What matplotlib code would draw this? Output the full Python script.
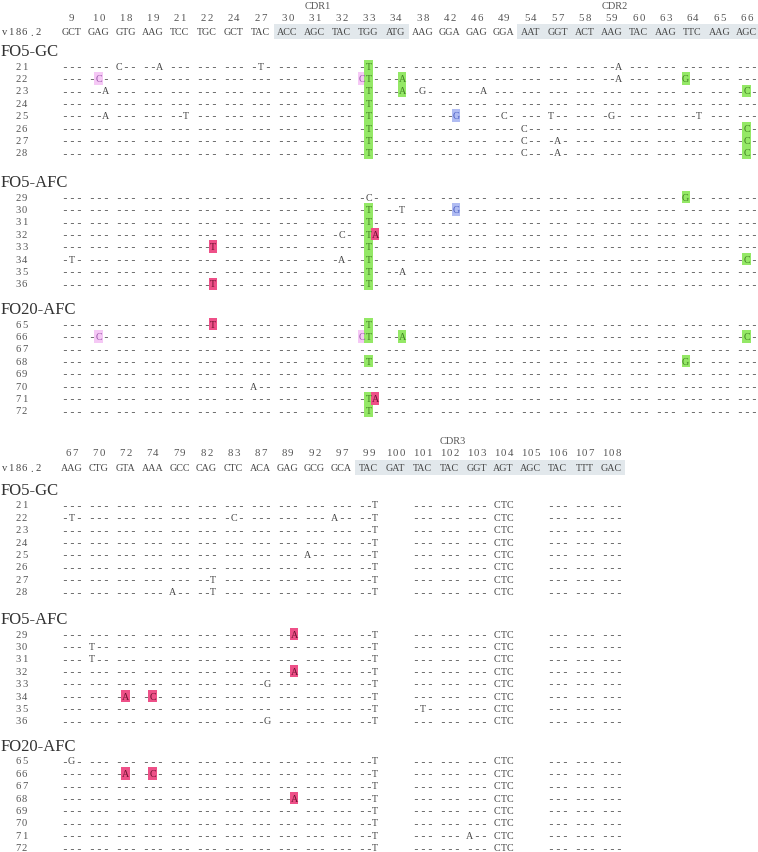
import matplotlib.pyplot as plt
from matplotlib.patches import Rectangle

# ---- data ----
top_codons = [9, 10, 18, 19, 21, 22, 24, 27, 30, 31, 32, 33, 34, 38, 42, 46, 49,
              54, 57, 58, 59, 60, 63, 64, 65, 66]
top_germline = ["GCT", "GAG", "GTG", "AAG", "TCC", "TGC", "GCT", "TAC", "ACC", "AGC",
                "TAC", "TGG", "ATG", "AAG", "GGA", "GAG", "GGA", "AAT", "GGT", "ACT",
                "AAG", "TAC", "AAG", "TTC", "AAG", "AGC"]
# (name, first codon, last codon, codon the label sits over)
top_cdrs = [("CDR1", 30, 34, 31), ("CDR2", 54, 66, 59)]

bottom_codons = [67, 70, 72, 74, 79, 82, 83, 87, 89, 92, 97, 99, 100, 101, 102, 103,
                 104, 105, 106, 107, 108]
bottom_germline = ["AAG", "CTG", "GTA", "AAA", "GCC", "CAG", "CTC", "ACA", "GAG", "GCG",
                   "GCA", "TAC", "GAT", "TAC", "TAC", "GGT", "AGT", "AGC", "TAC", "TTT",
                   "GAC"]
bottom_cdrs = [("CDR3", 99, 108, 102)]
bottom_defaults = {99: "--T", 100: "", 104: "CTC", 105: ""}

groups = [("FO5-GC", [21, 22, 23, 24, 25, 26, 27, 28]),
          ("FO5-AFC", [29, 30, 31, 32, 33, 34, 35, 36]),
          ("FO20-AFC", [65, 66, 67, 68, 69, 70, 71, 72])]

top_muts = {
    21: {18: "C--", 19: "--A", 27: "-T-", 33: "-T-", 59: "--A"},
    22: {10: "-C-", 33: "CT-", 34: "--A", 59: "--A", 64: "G--"},
    23: {10: "--A", 33: "-T-", 34: "--A", 38: "-G-", 46: "--A", 66: "-C-"},
    24: {33: "-T-"},
    25: {10: "--A", 21: "--T", 33: "-T-", 42: "--G", 49: "-C-", 57: "T--", 59: "-G-", 64: "--T"},
    26: {33: "-T-", 54: "C--", 66: "-C-"},
    27: {33: "-T-", 54: "C--", 57: "-A-", 66: "-C-"},
    28: {33: "-T-", 54: "C--", 57: "-A-", 66: "-C-"},
    29: {33: "-C-", 64: "G--"},
    30: {33: "-T-", 34: "--T", 42: "--G"},
    31: {33: "-T-"},
    32: {32: "-C-", 33: "-TA"},
    33: {22: "--T", 33: "-T-"},
    34: {9: "-T-", 32: "-A-", 33: "-T-", 66: "-C-"},
    35: {33: "-T-", 34: "--A"},
    36: {22: "--T", 33: "-T-"},
    65: {22: "--T", 33: "-T-"},
    66: {10: "-C-", 33: "CT-", 34: "--A", 66: "-C-"},
    67: {},
    68: {33: "-T-", 64: "G--"},
    69: {},
    70: {27: "A--"},
    71: {33: "-TA"},
    72: {33: "-T-"},
}

bottom_muts = {
    21: {}, 22: {67: "-T-", 83: "-C-", 97: "A--"}, 23: {}, 24: {},
    25: {92: "A--"}, 26: {}, 27: {82: "--T"}, 28: {79: "A--", 82: "--T"},
    29: {89: "--A"}, 30: {70: "T--"}, 31: {70: "T--"}, 32: {89: "--A"},
    33: {87: "--G"}, 34: {72: "-A-", 74: "-C-"}, 35: {101: "-T-"}, 36: {87: "--G"},
    65: {67: "-G-"}, 66: {72: "-A-", 74: "-C-"}, 67: {}, 68: {89: "--A"},
    69: {}, 70: {}, 71: {103: "A--"}, 72: {},
}

# highlighted bases: (clone, codon, base index, colour key)
top_marks = ([(r, 33, 1, "green") for r in [21, 22, 23, 24, 25, 26, 27, 28, 30, 31, 32, 33,
                                             34, 35, 36, 65, 66, 68, 71, 72]]
             + [(r, 34, 2, "green") for r in [22, 23, 66]]
             + [(r, 64, 0, "green") for r in [22, 29, 68]]
             + [(r, 66, 1, "green") for r in [23, 26, 27, 28, 34, 66]]
             + [(r, 10, 1, "pink") for r in [22, 66]]
             + [(r, 33, 0, "pink") for r in [22, 66]]
             + [(r, 42, 2, "blue") for r in [25, 30]]
             + [(r, 22, 2, "magenta") for r in [33, 36, 65]]
             + [(r, 33, 2, "magenta") for r in [32, 71]])
bottom_marks = ([(r, 89, 2, "magenta") for r in [29, 32, 68]]
                + [(r, 72, 1, "magenta") for r in [34, 66]]
                + [(r, 74, 1, "magenta") for r in [34, 66]])

box_col = {"green": "#94e866", "pink": "#f5c8f5", "blue": "#b0bcf2", "magenta": "#ee5088"}
txt_col = {"green": "#3f7f22", "pink": "#9a55aa", "blue": "#4a5ec4", "magenta": "#6a1230"}

# ---- layout ----
X0, PITCH = 71.5, 27.0
CW = PITCH / 4
ROW = 12.4
SERIF = "Liberation Serif"
MONO = "Liberation Mono"
GRAY = "#444444"
LIGHT = "#555555"
LETTER = 7.2

fig = plt.figure(figsize=(7.58, 8.53), dpi=100)
ax = fig.add_axes([0, 0, 1, 1])
ax.set_xlim(0, 758)
ax.set_ylim(853, 0)
ax.axis("off")


def col_x(i):
    return X0 + i * PITCH


def put_char(x, y, ch, size=LETTER, color=GRAY):
    # courier-like look: serif glyphs on a fixed pitch, dashes from the mono face
    if ch == "-":
        ax.text(x, y, ch, fontsize=8.2, family=MONO, color=color, ha="center", va="center")
    elif ch == ".":
        ax.text(x, y + size * 0.46, ch, fontsize=size, family=SERIF, color=color,
                ha="center", va="baseline")
    else:
        ax.text(x, y, ch, fontsize=size, family=SERIF, color=color, ha="center", va="center")


def put_string(x, y, s, pitch=CW, size=LETTER, color=GRAY, align="center"):
    n = len(s)
    if align == "center":
        start = x - (n - 1) * pitch / 2
    elif align == "left":
        start = x + pitch / 2
    else:
        start = x - (n - 0.5) * pitch
    for k, ch in enumerate(s):
        put_char(start + k * pitch, y, ch, size, color)


def draw_block(codons, germline, cdrs, muts, marks, defaults, y_top, label_ys):
    for name, a, b, at in cdrs:
        i0, i1 = codons.index(a), codons.index(b)
        left, right = col_x(i0) - PITCH / 2, min(col_x(i1) + PITCH / 2, 758)
        ax.add_patch(Rectangle((left, y_top + 19), right - left, 14.5, color="#e2e8ec", lw=0))
        ax.text(col_x(codons.index(at)) + 3, y_top, name, fontsize=7.5, family=SERIF,
                color=LIGHT, ha="center", va="center")
    for i, (c, g) in enumerate(zip(codons, germline)):
        put_string(col_x(i), y_top + 12, str(c), size=7.8, color=LIGHT)
        ax.text(col_x(i), y_top + 26.5, g, fontsize=LETTER, family=SERIF, color=GRAY,
                ha="center", va="center")
    put_string(1, y_top + 26.5, "v186.2", size=7.6, align="left")

    markmap = {(r, c, p): k for r, c, p, k in marks}
    for (gname, clones), gy in zip(groups, label_ys):
        ax.text(1, gy, gname, fontsize=12, family=SERIF, color="#333333", va="center")
        for k, clone in enumerate(clones):
            y = gy + 15 + k * ROW
            put_string(28, y, str(clone), size=7.6, color=LIGHT, align="right")
            for i, c in enumerate(codons):
                tok = muts[clone].get(c, defaults.get(c, "---"))
                for p, ch in enumerate(tok):
                    x = col_x(i) + (p - 1) * CW
                    key = markmap.get((clone, c, p))
                    color = GRAY
                    if key:
                        ax.add_patch(Rectangle((x - 4.2, y - ROW / 2), 8.4, ROW,
                                               color=box_col[key], lw=0))
                        color = txt_col[key]
                    put_char(x, y, ch, color=color)


draw_block(top_codons, top_germline, top_cdrs, top_muts, top_marks, {}, 6, [52, 183, 310])
draw_block(bottom_codons, bottom_germline, bottom_cdrs, bottom_muts, bottom_marks,
           bottom_defaults, 442, [491, 620, 747])

fig.savefig("out.png", dpi=100)
